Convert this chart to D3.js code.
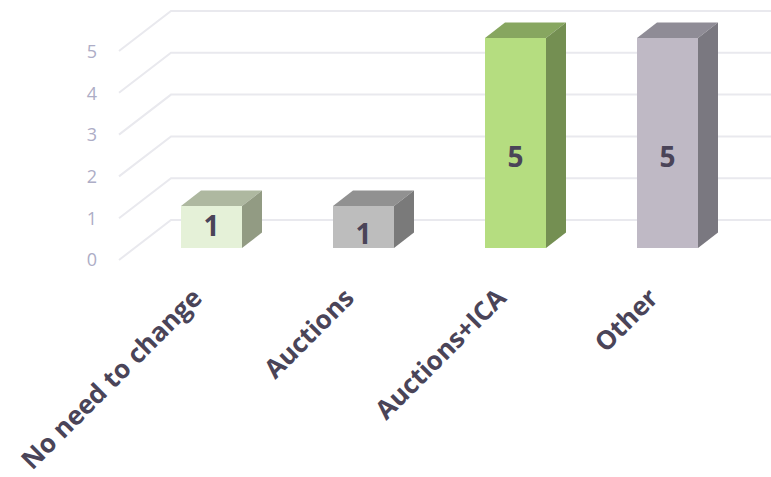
<!DOCTYPE html>
<html>
<head>
<meta charset="utf-8">
<script src="https://cdn.jsdelivr.net/npm/d3@7"></script>
<style>
  html, body { margin: 0; padding: 0; background: #fff; }
  svg { display: block; }
  text { font-family: "Open Sans", sans-serif; }
</style>
</head>
<body>
<svg id="chart" width="771" height="477"></svg>
<script>
var categories = ["No need to change", "Auctions", "Auctions+ICA", "Other"];
var values = [1, 1, 5, 5];
var tick_labels = [0, 1, 2, 3, 4, 5];

var front_colors = ["#e5f1d8", "#bdbdbd", "#b5dd80", "#bfb9c5"];
var top_colors = ["#aeb8a0", "#919191", "#87a660", "#8f8c96"];
var side_colors = ["#929b83", "#7a7a7a", "#748f52", "#7a7880"];
var label_nudge = [-1, 7, 14, 14];

var svg = d3.select("#chart");

// back wall scale, the floor sits 40px lower at the front edge
var y_back = d3.scaleLinear().domain([0, 5]).range([220, 11]);
var y_front = d3.scaleLinear().domain([0, 5]).range([248, 38]);
var y_axis = d3.scaleLinear().domain([0, 5]).range([260, 52]);
var x = d3.scaleBand().domain(categories).range([135.5, 743.5]).paddingInner(0).paddingOuter(0);

var bar_w = 61, depth_x = 20, depth_y = 15.5;

// gridlines with the slanted piece on the side wall
svg.append("g").selectAll("path").data(tick_labels).enter().append("path")
  .attr("d", function(d){
    var y = y_back(d);
    return "M119," + (y + 40) + "L171," + y + "H771";
  })
  .attr("fill", "none")
  .attr("stroke", "#e9e9ee")
  .attr("stroke-width", 2);

var bars = svg.append("g").selectAll("g").data(categories).enter().append("g");

function left(d){ return x(d) + (x.bandwidth() - bar_w) / 2; }

// top face
bars.append("path")
  .attr("d", function(d, i){
    var l = left(d), t = y_front(values[i]);
    return "M" + l + "," + t + "l" + depth_x + "," + (-depth_y) + "h" + bar_w + "l" + (-depth_x) + "," + depth_y + "z";
  })
  .attr("fill", function(d, i){ return top_colors[i]; });

// side face
bars.append("path")
  .attr("d", function(d, i){
    var r = left(d) + bar_w, t = y_front(values[i]), b = y_front(0);
    return "M" + r + "," + t + "l" + depth_x + "," + (-depth_y) + "V" + (b - depth_y) + "l" + (-depth_x) + "," + depth_y + "z";
  })
  .attr("fill", function(d, i){ return side_colors[i]; });

// front face
bars.append("rect")
  .attr("x", left)
  .attr("y", function(d, i){ return y_front(values[i]); })
  .attr("width", bar_w)
  .attr("height", function(d, i){ return y_front(0) - y_front(values[i]); })
  .attr("fill", function(d, i){ return front_colors[i]; });

// value labels
bars.append("text")
  .attr("x", function(d){ return left(d) + bar_w / 2; })
  .attr("y", function(d, i){ return (y_front(values[i]) + y_front(0)) / 2 + label_nudge[i]; })
  .attr("dy", "0.36em")
  .attr("text-anchor", "middle")
  .attr("font-size", 28)
  .attr("font-weight", 700)
  .attr("fill", "#4a4458")
  .text(function(d, i){ return values[i]; });

// value axis
var axis = svg.append("g")
  .attr("transform", "translate(97,0)")
  .call(d3.axisLeft(y_axis).tickValues(tick_labels).tickFormat(d3.format("d")).tickSize(0).tickPadding(0));
axis.select(".domain").remove();
axis.selectAll("text")
  .style("font-family", "'Open Sans', sans-serif")
  .attr("font-size", 18)
  .attr("fill", "#adadc6");

// category labels
svg.append("g").selectAll("text").data(categories).enter().append("text")
  .attr("transform", function(d){
    return "translate(" + (left(d) + 16) + ",293) rotate(-45)";
  })
  .attr("text-anchor", "end")
  .attr("dy", "0.36em")
  .attr("font-size", 26)
  .attr("font-weight", 700)
  .attr("fill", "#4a4458")
  .text(function(d){ return d; });
</script>
</body>
</html>
